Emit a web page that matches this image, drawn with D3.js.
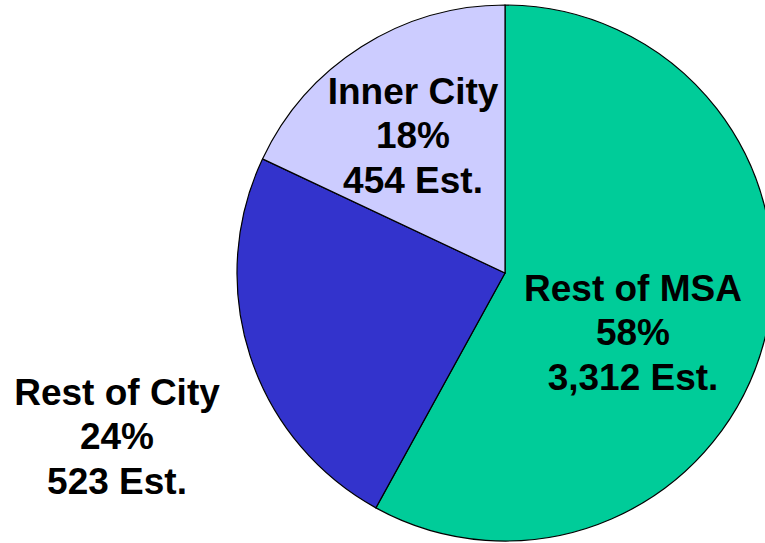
<!DOCTYPE html>
<html>
<head>
<meta charset="utf-8">
<script src="https://cdn.jsdelivr.net/npm/d3@7"></script>
<style>
  html, body { margin: 0; padding: 0; background: #fff; }
  svg { display: block; }
</style>
</head>
<body>
<div id="chart"></div>
<script>
// Establishments by area
const categories = ['Rest of MSA', 'Rest of City', 'Inner City'];
const shares = [58, 24, 18];
const establishments = ['3,312', '523', '454'];
const colors = ['#00CC99', '#3333CC', '#CCCCFF'];

const width = 765;
const height = 543;
const cx = 505, cy = 273, radius = 268;

// label block centres (middle line baseline), relative to the page
const labelPos = {
    'Rest of MSA': [633, 345],
    'Rest of City': [117, 449],
    'Inner City': [413, 148]
};

const data = categories.map((c, i) => ({ name: c, value: shares[i], est: establishments[i], color: colors[i] }));

const svg = d3.select('#chart')
    .append('svg')
    .attr('width', width)
    .attr('height', height);

const pie = d3.pie()
    .sort(null)
    .value(d => d.value);

const arc = d3.arc()
    .innerRadius(0)
    .outerRadius(radius);

const g = svg.append('g')
    .attr('transform', `translate(${cx},${cy})`);

g.selectAll('path')
    .data(pie(data))
    .enter()
    .append('path')
    .attr('d', arc)
    .style('fill', d => d.data.color)
    .style('stroke', '#000')
    .style('stroke-width', 1.2);

// Labels
const labels = svg.selectAll('.label')
    .data(data)
    .enter()
    .append('text')
    .attr('class', 'label')
    .attr('text-anchor', 'middle')
    .style('font-family', '"Liberation Sans", Arial, sans-serif')
    .style('font-weight', 'bold')
    .style('font-size', '37px')
    .style('fill', '#000');

labels.each(function(d) {
    const [x, y] = labelPos[d.name];
    const t = d3.select(this);
    const lines = [d.name, d.value + '%', d.est + ' Est.'];
    lines.forEach((line, i) => {
        t.append('tspan')
            .attr('x', x)
            .attr('y', y + (i - 1) * 44.5)
            .text(line);
    });
});
</script>
</body>
</html>
